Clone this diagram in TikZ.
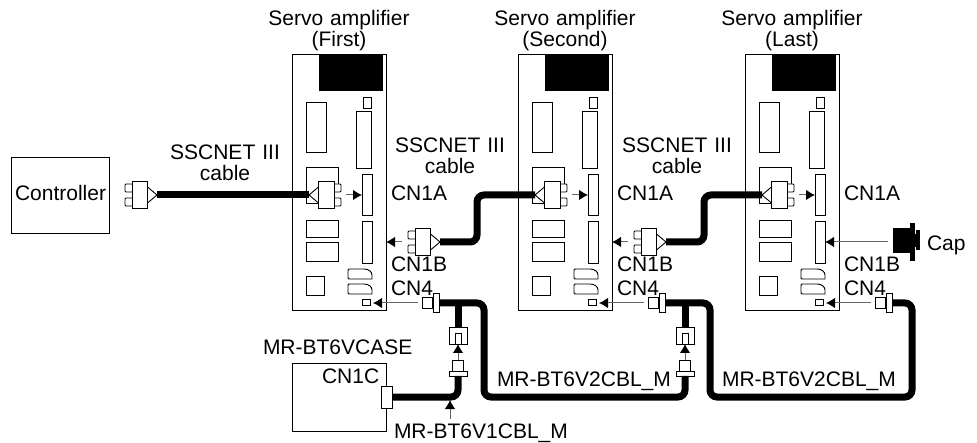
\documentclass[tikz,border=0pt]{standalone}
\usepackage{fontspec}
\setmainfont{Liberation Sans}
\usetikzlibrary{arrows.meta, positioning, calc}

\tikzset{
    sscplug/.pic={
        \fill[white] (25,-11) rectangle (32,11);
        \draw[part] (0,0) -- (9.5,-8) -- (9.5,8) -- cycle;
        \draw[part, rounded corners=1pt] (24,-11) rectangle (32,-3);
        \draw[part, rounded corners=1pt] (24,3) rectangle (32,11);
        \draw[part] (9.5,-13.5) rectangle (25,13.5);
        \coordinate (-tip) at (0,0);
        \coordinate (-back) at (32,0);
    },
    batplug/.pic={
        \draw[part] (0,-5.5) rectangle (10,5.5);
        \draw[part] (11,-9.5) rectangle (17.5,9.5);
        \coordinate (-in) at (0,0);
        \coordinate (-out) at (17,0);
    },
}

\begin{document}
\begin{tikzpicture}[
    x=1pt, y=-1pt,
    every node/.style={font=\fontsize{21}{21}\selectfont, inner sep=0pt, outer sep=0pt},
    part/.style={draw, fill=white, line width=0.9pt},
    box/.style={part, inner sep=0pt},
    lab/.style={anchor=base, align=center},
    labw/.style={anchor=base west},
    cable/.style={line width=7pt, rounded corners=7pt},
    arr/.style={-{Latex[black,length=9pt,width=10.5pt]}, line width=1pt, black!60},
]
    \useasboundingbox (0,0) rectangle (977,443);

    % Controller and its plug.
    \node[box, minimum width=98, minimum height=76] (ctrl) at (60.5,195) {};
    \node[labw] (ctrltext) at (15,201) {Controller};
    \pic[xscale=-1] (ctrlplug) at (157,195) {sscplug};

    % The three amplifiers.
    \foreach \n/\dx/\title in {first/0/First, second/226/Second, last/453/Last} {
    \begin{scope}[xshift=\dx pt]
        \node[box, minimum width=94, minimum height=256] (amp\n) at (339,182) {};
        \node[lab, text width=160] (title\n) at (339,26) {Servo amplifier\\(\title)};
        \node[fill=black, minimum width=64, minimum height=37] (top\n) at (351,72.5) {};
        \node[box, minimum width=8, minimum height=11] (led\n) at (367,102.5) {};
        \node[box, minimum width=20, minimum height=50] (upper\n) at (316,127) {};
        \node[box, minimum width=15, minimum height=57] (long\n) at (363.5,139.5) {};
        \node[box, minimum width=32, minimum height=36] (port\n) at (322,185) {};
        \node[box, minimum width=32, minimum height=17] (midup\n) at (322,228.5) {};
        \node[box, minimum width=32, minimum height=19] (midlow\n) at (322,251.5) {};
        \node[box, minimum width=18, minimum height=19] (square\n) at (315,285.5) {};
        \node[box, minimum width=10, minimum height=41] (slota\n) at (367,194.5) {};
        \node[box, minimum width=10, minimum height=42] (slotb\n) at (367,242) {};
        \node[box, minimum width=8, minimum height=6] (slotc\n) at (366,302) {};
        \draw[part] (350,269) -- (364,269) .. controls (369,269) and (372,272) .. (372,275) -- (372,279) -- (350,279) .. controls (348,279) and (348,279) .. (348,277) -- (348,271) .. controls (348,269) and (348,269) .. (350,269) -- cycle;
        \draw[part] (350,284) -- (364,284) .. controls (369,284) and (372,287) .. (372,290) -- (372,294) -- (350,294) .. controls (348,294) and (348,294) .. (348,292) -- (348,286) .. controls (348,284) and (348,284) .. (350,284) -- cycle;

        % CN1A plug and the labels beside the slots.
        \pic (pluga\n) at (309,195) {sscplug};
        \draw[arr, shorten <=5pt] (pluga\n-back) -- (slota\n.west |- pluga\n-back);
        \node[labw] (cna\n) at (391,201) {CN1A};
        \node[labw] (cnb\n) at (391,272) {CN1B};
        \node[labw] (cnc\n) at (391,296) {CN4};

        % CN4 plug.
        \pic (bat\n) at (422,303) {batplug};
        \draw[arr, shorten >=3pt, shorten <=4pt] (bat\n-in) -- (slotc\n.east |- bat\n-in);
    \end{scope}
    }

    % Plugs on CN1B.
    \foreach \n/\dx in {first/0, second/226} {
        \pic[xscale=-1] (plugb\n) at ({440+\dx},242) {sscplug};
        \draw[arr, shorten <=6pt] (plugb\n-back) -- (amp\n.east |- plugb\n-back);
    }

    % Cap on the last amplifier.
    \node[fill=black, minimum width=17, minimum height=25] (cap) at (901.5,240.5) {};
    \node[fill=black, minimum width=5, minimum height=38] (capflange) at (912.5,242) {};
    \node[fill=black, minimum width=4, minimum height=20] (caprim) at (918,240.5) {};
    \draw[line width=13pt] (capflange.east |- caprim) -- (caprim.west);
    \draw[arr, shorten <=5pt] (cap.west |- slotblast) -- (slotblast.east);
    \node[labw] (captext) at (927,251) {Cap};

    % SSCNET III cables.
    \draw[cable, rounded corners=0pt] (ctrlplug-tip) -- (plugafirst-tip);
    \coordinate (bendfirst) at (477,219);
    \coordinate (bendsecond) at (704,219);
    \draw[cable] (plugbfirst-tip) -| (bendfirst) |- (plugasecond-tip);
    \draw[cable] (plugbsecond-tip) -| (bendsecond) |- (plugalast-tip);
    \node[lab, text width=130] (sscone) at (225,160) {SSCNET III\\cable};
    \node[lab, text width=130] (ssctwo) at (450,153) {SSCNET III\\cable};
    \node[lab, text width=130] (sscthree) at (677,153) {SSCNET III\\cable};

    % Battery case and its branches.
    \node[box, minimum width=94, minimum height=68] (case) at (339,397) {};
    \node[labw] (casetext) at (263,355) {MR-BT6VCASE};
    \node[labw] (cncase) at (322,384) {CN1C};
    \foreach \n/\dx in {first/0, second/227} {
    \begin{scope}[xshift=\dx pt]
        \coordinate (tee\n) at (458,303);
        \node[box, minimum width=18, minimum height=17] (female\n) at (458,335.5) {};
        \node[box, minimum width=6, minimum height=11] (pin\n) at (458,338.5) {};
        \node[box, minimum width=11, minimum height=12] (male\n) at (458,366) {};
        \node[box, minimum width=18, minimum height=5] (rim\n) at (458,373.5) {};
        \draw[arr] (male\n.north) -- (female\n.south);
    \end{scope}
    \draw[cable, rounded corners=0pt] (tee\n) -- (female\n.north);
    }
    \node[box, minimum width=11, minimum height=22] (caseport) at (386.5,397) {};

    % Battery cables.
    \coordinate (lowfirst) at (484,397);
    \coordinate (lowsecond) at (710,397);
    \coordinate (highlast) at (912,303);
    \draw[cable] (batfirst-out) -| (lowfirst) -| (rimsecond.south);
    \draw[cable] (batsecond-out) -| (lowsecond) -| (highlast) -- (batlast-out);
    \draw[cable] (caseport.east) -| (rimfirst.south);
    \node[labw] (vtwoone) at (497,387) {MR-BT6V2CBL\_M};
    \node[labw] (vtwotwo) at (722,387) {MR-BT6V2CBL\_M};

    % Label of the case cable.
    \node[labw] (vonetext) at (394,438) {MR-BT6V1CBL\_M};
    \coordinate (vonetail) at (450,419);
    \coordinate (vonetip) at (450,400);
    \draw[arr] (vonetail) -- (vonetip);
\end{tikzpicture}
\end{document}
